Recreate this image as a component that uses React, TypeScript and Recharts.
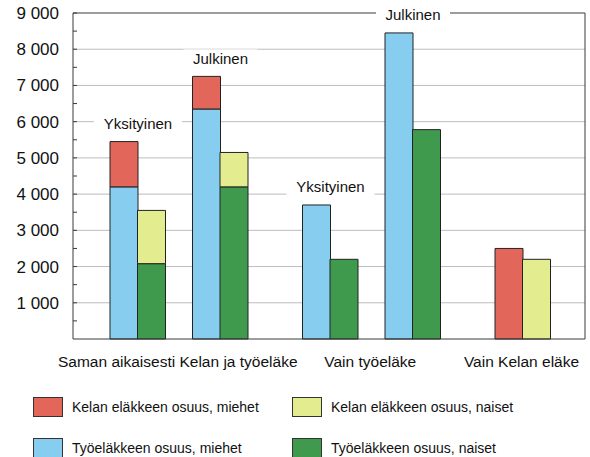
import React from 'react';
import { BarChart, Bar, XAxis, YAxis, CartesianGrid, ReferenceLine, LabelList } from 'recharts';

// ---------- data ----------
const groupNames = ['Saman aikaisesti Kelan ja työeläke', 'Vain työeläke', 'Vain Kelan eläke'];
const clusterGroup = [0, 0, 1, 1, 2];
const clusterNames = ['Yksityinen', 'Julkinen', 'Yksityinen', 'Julkinen', ''];
const kelaMiehet: (number | null)[] = [1250, 900, null, null, 2500];
const tyoMiehet: (number | null)[] = [4200, 6350, 3700, 8450, null];
const kelaNaiset: (number | null)[] = [1470, 950, null, null, 2200];
const tyoNaiset: (number | null)[] = [2080, 4200, 2200, 5780, null];
const yTicks = [500, 1000, 1500, 2000, 2500, 3000, 3500, 4000, 4500, 5000, 5500, 6000, 6500, 7000, 7500, 8000, 8500, 9000];
const gridValues = [1000, 2000, 3000, 4000, 5000, 6000, 7000, 8000];
const legendItems = [
  { key: 'kelaM', name: 'Kelan eläkkeen osuus, miehet' },
  { key: 'kelaN', name: 'Kelan eläkkeen osuus, naiset' },
  { key: 'tyoM', name: 'Työeläkkeen osuus, miehet' },
  { key: 'tyoN', name: 'Työeläkkeen osuus, naiset' },
];

// ---------- styles ----------
const COLORS: Record<string, string> = {
  kelaM: '#e2675a',
  kelaN: '#e3ec8e',
  tyoM: '#86cdf0',
  tyoN: '#3f9a4d',
};
const FONT = '"Liberation Sans", Arial, Helvetica, sans-serif';
const W = 590;
const H = 457;
const MARGIN = { top: 13, right: 0, bottom: 0, left: 0 };
const Y_W = 73;
const Y_R_W = 5;
const PAD_L = 37;
const PAD_R = 35;
const X_H = 118;
const EDGE = '#3a3a3a';

// ---------- table built from arrays ----------
type Row = {
  slot: string;
  tyoM?: number | null;
  kelaM?: number | null;
  tyoN?: number | null;
  kelaN?: number | null;
  labTyoM?: string;
  labKelaM?: string;
  group: number;
};
const rows: Row[] = [];
clusterNames.forEach((name, i) => {
  if (i > 0) {
    const gaps = clusterGroup[i] !== clusterGroup[i - 1] ? 2 : 1;
    for (let g = 0; g < gaps; g++) rows.push({ slot: `gap${i}-${g}`, group: -1 });
  }
  const kelaTop = kelaMiehet[i] != null;
  rows.push({
    slot: `m${i}`,
    group: clusterGroup[i],
    tyoM: tyoMiehet[i],
    kelaM: kelaMiehet[i],
    labKelaM: kelaTop ? name : '',
    labTyoM: kelaTop ? '' : name,
  });
  rows.push({ slot: `n${i}`, group: clusterGroup[i], tyoN: tyoNaiset[i], kelaN: kelaNaiset[i] });
});

const plotW = W - MARGIN.left - MARGIN.right - Y_W - Y_R_W;
const band = (plotW - PAD_L - PAD_R) / rows.length;
const groupCenters = groupNames.map((_, g) => {
  const idx = rows.map((r, i) => (r.group === g ? i : -1)).filter((i) => i >= 0);
  return (idx[0] + idx[idx.length - 1]) / 2;
});

const GroupTick = (props: any) => {
  const { x, y, index } = props;
  const items: React.ReactNode[] = [];
  groupCenters.forEach((c, g) => {
    if (Math.floor(c) === index) {
      items.push(
        <text
          key={g}
          x={x + (c - index) * band - 1}
          y={y + 15}
          dy="0.35em"
          textAnchor="middle"
          fontFamily={FONT}
          fontSize={15.5}
          fill="#111"
        >
          {groupNames[g]}
        </text>
      );
    }
  });
  return <g>{items}</g>;
};

const ClusterLabel = (props: any) => {
  const { x, y, width, value } = props;
  if (!value) return null;
  const cx = Number(x) + Number(width);
  const cy = Number(y) - 18;
  const w = String(value).length * 7 + 18;
  return (
    <g>
      <rect x={cx - w / 2} y={cy - 9} width={w} height={18} fill="#fff" />
      <text x={cx} y={cy} dy="0.35em" textAnchor="middle" fontFamily={FONT} fontSize={15} fill="#111">
        {value}
      </text>
    </g>
  );
};

const fmt = (v: number) => (v % 1000 === 0 ? `${v / 1000} 000` : '');

export default function App() {
  return (
    <div style={{ position: 'absolute', left: 0, top: 0, width: W, height: H, background: '#fff' }}>
      <BarChart width={W} height={H} data={rows} margin={MARGIN} barCategoryGap={0} barGap={0}>
        <CartesianGrid vertical={false} horizontalValues={gridValues} stroke="#bdbdbd" />
        <ReferenceLine y={9000} stroke={EDGE} strokeWidth={1} />
        <XAxis
          dataKey="slot"
          type="category"
          interval={0}
          padding={{ left: PAD_L, right: PAD_R }}
          height={X_H}
          tickLine={false}
          axisLine={{ stroke: EDGE }}
          tick={<GroupTick />}
        />
        <YAxis
          type="number"
          domain={[0, 9000]}
          ticks={yTicks}
          interval={0}
          width={Y_W}
          tickFormatter={fmt}
          tickSize={-4}
          tickMargin={18}
          tickLine={{ stroke: EDGE }}
          axisLine={{ stroke: EDGE }}
          tick={{ fontFamily: FONT, fontSize: 17, fill: '#111' }}
        />
        <YAxis
          yAxisId="r"
          orientation="right"
          type="number"
          domain={[0, 9000]}
          width={Y_R_W}
          tick={false}
          tickLine={false}
          axisLine={{ stroke: EDGE }}
        />
        <Bar dataKey="tyoM" stackId="s" fill={COLORS.tyoM} stroke="#222" strokeWidth={1} isAnimationActive={false}>
          <LabelList dataKey="labTyoM" content={<ClusterLabel />} />
        </Bar>
        <Bar dataKey="kelaM" stackId="s" fill={COLORS.kelaM} stroke="#222" strokeWidth={1} isAnimationActive={false}>
          <LabelList dataKey="labKelaM" content={<ClusterLabel />} />
        </Bar>
        <Bar dataKey="tyoN" stackId="s" fill={COLORS.tyoN} stroke="#222" strokeWidth={1} isAnimationActive={false} />
        <Bar dataKey="kelaN" stackId="s" fill={COLORS.kelaN} stroke="#222" strokeWidth={1} isAnimationActive={false} />
      </BarChart>
      {legendItems.map((it, i) => {
        const col = i % 2;
        const row = Math.floor(i / 2);
        const left = col === 0 ? 33 : 292;
        const top = row === 0 ? 397 : 438;
        return (
          <div
            key={it.key}
            style={{ position: 'absolute', left, top, height: 20, display: 'flex', alignItems: 'center' }}
          >
            <div
              style={{
                width: 28,
                height: 18,
                background: COLORS[it.key],
                border: '1px solid #333',
              }}
            />
            <span style={{ marginLeft: 9, fontFamily: FONT, fontSize: 14, color: '#111', whiteSpace: 'nowrap' }}>
              {it.name}
            </span>
          </div>
        );
      })}
    </div>
  );
}
